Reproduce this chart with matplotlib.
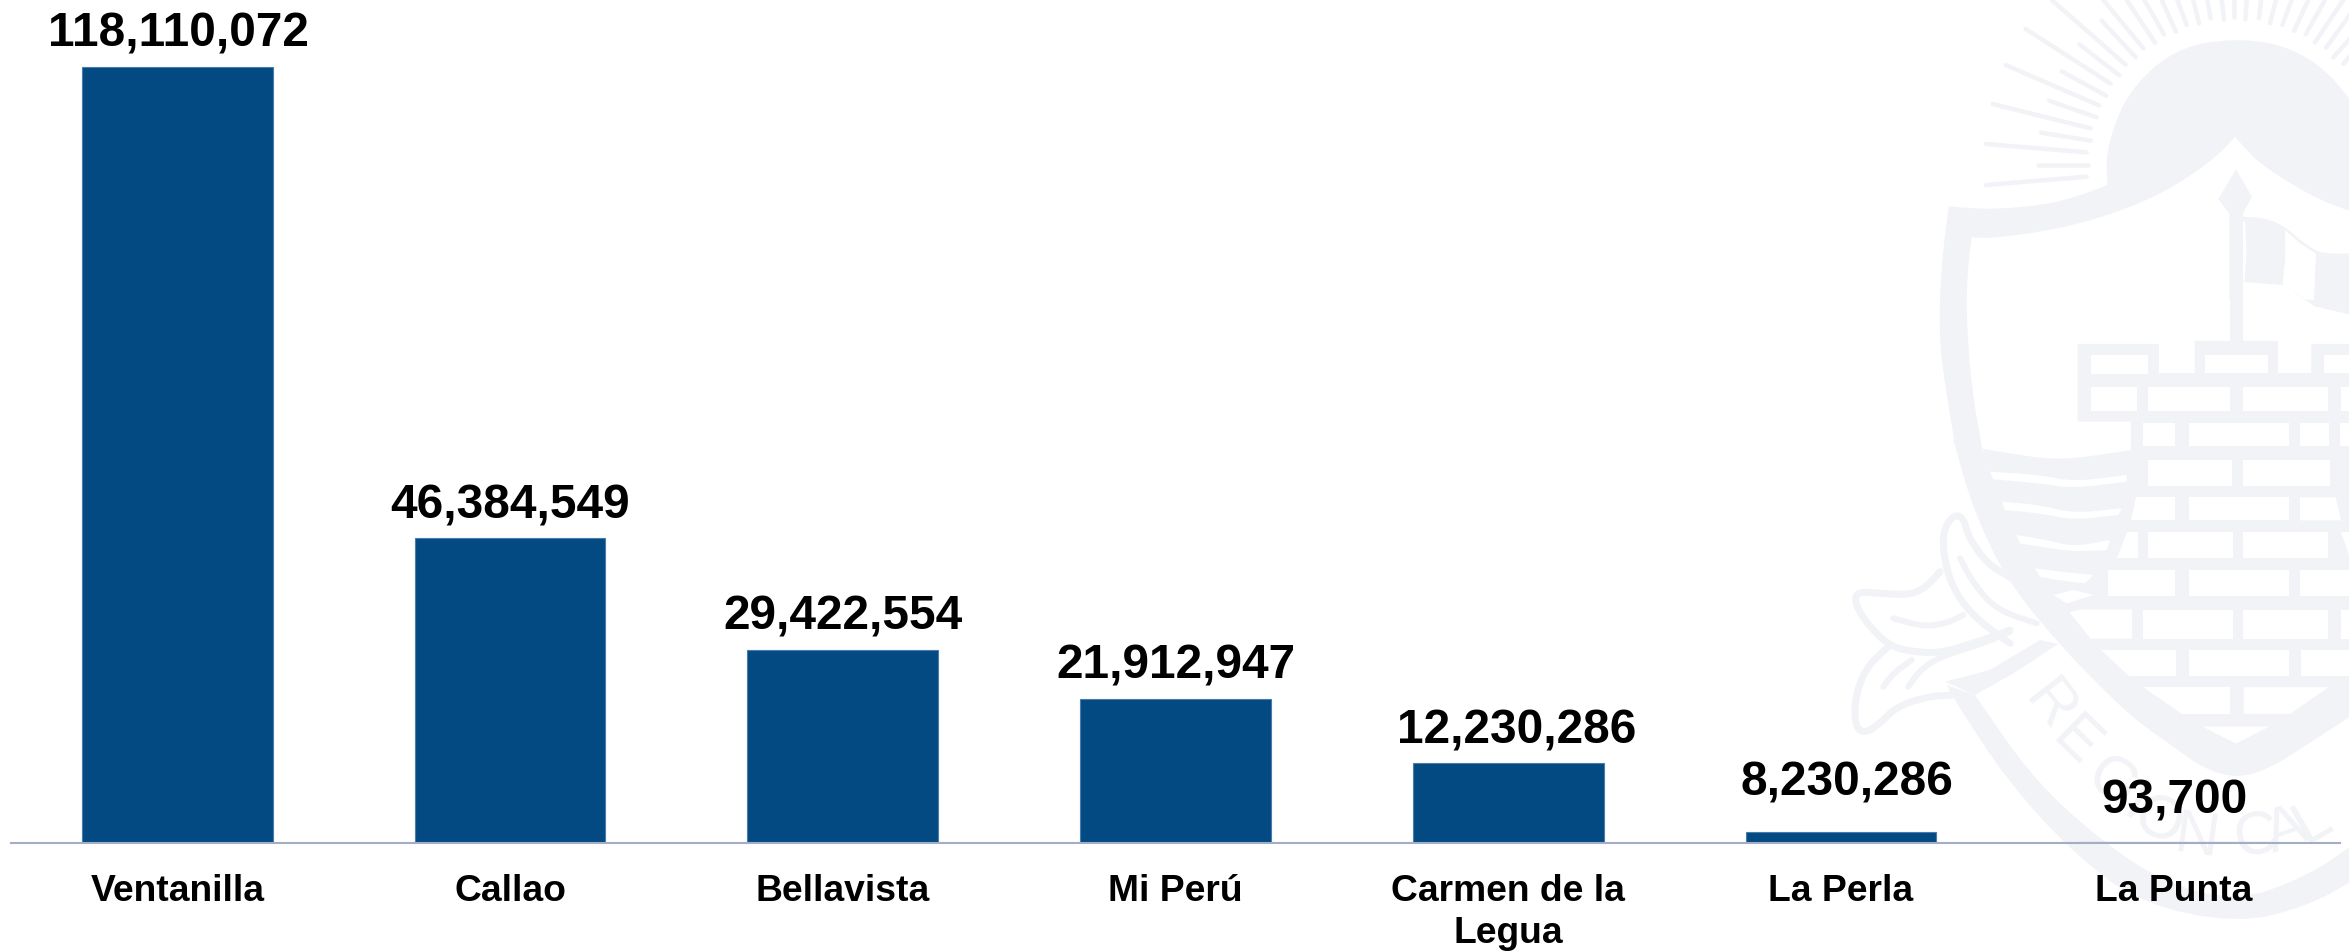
import numpy as np
import matplotlib
matplotlib.use("Agg")
import matplotlib.pyplot as plt
from matplotlib.ticker import NullLocator

plt.rcParams['font.family'] = ['Liberation Sans', 'DejaVu Sans']

# ---- data ----
categories = ['Ventanilla', 'Callao', 'Bellavista', 'Mi Perú', 'Carmen de la\nLegua', 'La Perla', 'La Punta']
bar_values = [118110072, 46384549, 29422554, 21912947, 12230286, 1670000, 93700]
value_labels = ['118,110,072', '46,384,549', '29,422,554', '21,912,947', '12,230,286', '8,230,286', '93,700']
label_gap_px = [20, 20, 20, 21, 19, 37, 29]
label_shift_px = [1, 0, 0, 0, 8, 6, 1]

W, H, DPI = 2349, 951, 100
BAR = '#034A83'
EDGE = '#4A7CAB'
AXIS = '#A3AEC6'
WM = '#F2F3F7'

fig = plt.figure(figsize=(W / DPI, H / DPI), dpi=DPI, facecolor='white')

# ---- watermark crest (background decoration, pixel coordinates) ----
wm = fig.add_axes([0, 0, 1, 1], zorder=0)
wm.set_xlim(0, W)
wm.set_ylim(H, 0)
wm.axis('off')


def z1(p):
    return [(1800 + x * 549 / 1568, y * 951 / 1568) for x, y in p]


def z4(p):
    return [(1840 + x / 3, 440 + y / 3) for x, y in p]


def z5(p):
    return [(1960 + x / 3, y / 3) for x, y in p]


def smooth(p, n=3):
    p = np.array(p, float)
    for _ in range(n):
        q = 0.75 * p[:-1] + 0.25 * p[1:]
        r = 0.25 * p[:-1] + 0.75 * p[1:]
        m = np.empty((len(q) * 2, 2))
        m[0::2] = q
        m[1::2] = r
        p = np.vstack([p[0], m, p[-1]])
    return [tuple(v) for v in p]


def poly(p, color=WM, z=1):
    a = np.array(p)
    wm.fill(a[:, 0], a[:, 1], color=color, lw=0, zorder=z)


def stroke(p, px, color=WM, z=2, sm=True):
    a = np.array(smooth(p) if sm else p)
    wm.plot(a[:, 0], a[:, 1], color=color, lw=px * 72 / DPI, solid_capstyle='round',
            solid_joinstyle='round', zorder=z)


# rays
rays = [((78, 555), (380, 530)), ((235, 495), (385, 495)), ((78, 432), (380, 457)), ((243, 398), (392, 422)),
        ((98, 312), (392, 385)), ((267, 302), (410, 352)), ((137, 195), (417, 316)), ((305, 214), (438, 287)),
        ((197, 87), (452, 251)), ((358, 133), (478, 226)), ((275, 0), (497, 194)), ((425, 62), (527, 172)),
        ((430, 0), (550, 145)), ((500, 0), (585, 128)), ((553, 0), (612, 103)), ((605, 0), (648, 95)),
        ((652, 0), (680, 75)), ((700, 0), (717, 70)), ((742, 0), (752, 55)), ((785, 0), (792, 58)),
        ((823, -5), (823, 50)), ((860, 0), (856, 58)), ((903, 0), (897, 55)), ((948, 0), (930, 70)),
        ((995, 0), (967, 75)), ((1045, 0), (1002, 93)), ((1095, 0), (1037, 103)), ((1150, 0), (1065, 127)),
        ((1180, 30), (1098, 143)), ((1180, 105), (1120, 172)), ((1180, 155), (1150, 192))]
for a, b in rays:
    stroke(z5([a, b]), 4.5, z=1, sm=False)

sun_top = smooth([(443, 555), (438, 480), (455, 400), (490, 310), (545, 235), (620, 170), (700, 135), (780, 122),
                  (860, 120), (950, 132), (1040, 170), (1110, 225), (1180, 310)], 2)
top_left = smooth([(0, 622), (100, 628), (250, 615), (350, 590), (443, 555)], 2)
apex_left = smooth([(36, 712), (90, 715), (250, 695), (400, 660), (540, 610), (640, 560), (730, 500), (790, 450),
                    (825, 410)], 2)
apex_right = smooth([(825, 410), (860, 450), (900, 490), (990, 550), (1080, 600), (1180, 637)], 2)

outer_bottom = smooth(z4([(1560, 810), (1400, 915), (1290, 985), (1190, 1015), (1090, 985), (1000, 920), (900, 850),
                          (800, 760), (655, 610), (500, 420), (400, 210), (340, 0)]), 2)
left_outer = smooth(z1([(440, 725), (405, 600), (397, 530), (405, 430), (425, 340)]), 2)
shield_outer = z5(top_left) + z5(sun_top) + [(2349, 104), (2349, 717)] + outer_bottom + left_outer
poly(shield_outer, z=1)

inner_left = smooth(z1([(522, 745), (490, 640), (475, 520), (478, 450), (490, 392)]), 2)
shield_inner = inner_left + z5(apex_left) + z5(apex_right) + [(2349, 212), (2349, 650), (2150, 600), (2100, 500)]
poly(shield_inner, color='white', z=2)

# outer ring + ribbon band
ring_out = smooth(z4([(320, 735), (350, 790), (500, 1020), (700, 1240), (900, 1390), (1190, 1450), (1400, 1400),
                      (1560, 1310)]), 2)
ring_in = smooth(z4([(1560, 1200), (1400, 1310), (1190, 1385), (950, 1320), (720, 1150), (560, 990), (405, 765)]), 2)
poly(ring_out + ring_in, z=1)
poly(z4([(315, 725), (450, 690), (600, 600), (655, 612), (520, 700), (405, 765)]), z=1)

# castle + water block
castle = z1([(793, 567), (1025, 567), (1025, 615), (1127, 615), (1127, 562), (1365, 562), (1365, 615), (1460, 615),
             (1460, 567), (1580, 567), (1580, 1130), (1245, 1260), (800, 1040), (620, 900), (522, 740)]) \
    + z1(smooth([(522, 740), (700, 757), (800, 755), (945, 742)], 2)) + z1([(945, 695), (793, 695)])
poly(castle, z=3)

bricks = [
    [(830, 585), (995, 585), (995, 617), (830, 617)], [(1157, 585), (1337, 585), (1337, 615), (1157, 615)],
    [(1497, 585), (1580, 585), (1580, 615), (1497, 615)],
    [(830, 638), (963, 638), (963, 678), (830, 678)], [(995, 638), (1227, 638), (1227, 678), (995, 678)],
    [(1265, 638), (1507, 638), (1507, 678), (1265, 678)], [(1545, 638), (1580, 638), (1580, 678), (1545, 678)],
    [(980, 697), (1072, 697), (1072, 735), (980, 735)], [(1110, 697), (1398, 697), (1398, 735), (1110, 735)],
    [(1428, 697), (1510, 697), (1510, 735), (1428, 735)], [(1543, 697), (1580, 697), (1580, 735), (1543, 735)],
    [(995, 758), (1235, 758), (1235, 802), (995, 802)], [(1265, 758), (1515, 758), (1515, 802), (1265, 802)],
    [(960, 820), (1072, 820), (1072, 858), (945, 858)], [(1110, 820), (1398, 820), (1398, 858), (1110, 858)],
    [(1428, 820), (1530, 820), (1545, 858), (1428, 858)],
    [(935, 877), (965, 877), (965, 920), (905, 920)], [(995, 877), (1237, 877), (1237, 920), (995, 920)],
    [(1265, 877), (1507, 877), (1507, 920), (1265, 920)], [(1545, 877), (1580, 877), (1580, 920), (1570, 920)],
    [(880, 940), (1072, 940), (1072, 983), (880, 983)], [(1110, 940), (1398, 940), (1398, 983), (1110, 983)],
    [(1428, 940), (1580, 940), (1580, 983), (1428, 983)],
    [(770, 1010), (800, 1005), (948, 1005), (948, 1053), (830, 1053)],
    [(980, 1005), (1237, 1005), (1237, 1053), (980, 1053)], [(1265, 1005), (1507, 1005), (1507, 1053), (1265, 1053)],
    [(1545, 1005), (1580, 1005), (1580, 1053), (1545, 1053)],
    [(860, 1072), (1075, 1072), (1075, 1115), (940, 1115)], [(1110, 1072), (1398, 1072), (1398, 1115), (1110, 1115)],
    [(1430, 1072), (1580, 1072), (1580, 1115), (1430, 1115)],
    [(980, 1133), (1228, 1133), (1228, 1177), (1090, 1177)], [(1267, 1133), (1510, 1133), (1400, 1177), (1267, 1177)],
    [(1150, 1198), (1340, 1198), (1245, 1226)],
]
for b in bricks:
    poly(z1(b), color='white', z=4)

# white water stripes
stripes = [
    ([(450, 95), (600, 105), (700, 125), (860, 105)], [(860, 125), (700, 145), (600, 130), (460, 118)]),
    ([(485, 185), (600, 195), (700, 220), (845, 205)], [(835, 225), (700, 240), (600, 220), (495, 210)]),
    ([(530, 285), (620, 300), (700, 320), (810, 300)], [(800, 330), (700, 335), (600, 320), (540, 310)]),
    ([(585, 385), (660, 395), (760, 405)], [(735, 430), (650, 420), (600, 410)]),
]
for up, lo in stripes:
    poly(z4(smooth(up, 2) + smooth(lo, 2)), color='white', z=4)
poly(z4([(640, 465), (700, 450), (760, 465), (680, 490)]), color='white', z=4)

# flagpole and flag
poly(z5([(808, 640), (775, 597), (828, 508), (876, 590), (849, 640), (849, 900), (808, 900)]), z=3)
poly(z1([(1227, 350), (1265, 350), (1265, 570), (1227, 570)]), z=3)
flag_top = smooth([(849, 650), (920, 655), (975, 680), (1020, 720), (1070, 755), (1120, 762), (1180, 760)], 2)
poly(z5(flag_top) + z1([(1580, 520), (1470, 505), (1380, 470), (1265, 465)]), z=3)
poly(z5([(975, 690), (1020, 730), (1068, 762), (1062, 900), (1035, 898), (968, 855), (976, 770)]), color='white', z=4)
poly(z5([(855, 665), (860, 760), (853, 845), (849, 845), (849, 665)]), color='white', z=4)

# ribbon knots
ribbon = [
    ([(515, 415), (440, 370), (385, 290), (370, 232), (340, 225), (310, 270), (310, 340), (335, 440), (400, 530), (510, 610)], 7),
    ([(360, 355), (400, 430), (470, 510), (590, 550)], 6),
    ([(300, 395), (260, 440), (210, 465), (120, 460), (50, 455), (45, 490), (80, 550), (150, 620), (220, 635), (300, 640), (430, 600), (510, 570)], 7),
    ([(160, 535), (250, 560), (320, 550), (370, 525)], 6),
    ([(145, 620), (80, 680), (45, 770), (45, 860), (75, 880), (120, 850), (170, 800), (260, 770), (340, 765)], 7),
    ([(130, 740), (160, 700), (215, 660)], 6),
    ([(205, 740), (240, 690), (300, 650), (430, 610), (510, 575)], 6),
]
for pts, px in ribbon:
    stroke(z4(pts), px, z=2)

# ring lettering
letters = [('R', 625, 800, -52), ('E', 705, 910, -44), ('G', 815, 1035, -33), ('I', 885, 1095, -28),
           ('O', 955, 1150, -20), ('N', 1070, 1195, -8), ('C', 1250, 1195, 10), ('A', 1340, 1175, 20),
           ('L', 1420, 1145, 30)]
for ch, x, y, rot in letters:
    (px, py), = z4([(x, y)])
    wm.text(px, py, ch, color=WM, fontsize=44, ha='center', va='center', rotation=rot,
            rotation_mode='anchor', zorder=5)

# ---- chart ----
ax_left, ax_right, ax_base = 11, 2340, 843
px_per_value = (843 - 67) / bar_values[0]
ax = fig.add_axes([ax_left / W, 1 - ax_base / H, (ax_right - ax_left) / W, ax_base / H], zorder=1)
ax.patch.set_alpha(0)
x = np.arange(len(categories))
ax.bar(x, bar_values, width=0.573, color=BAR, edgecolor=EDGE, linewidth=0.8)
ax.set_xlim(-0.5, len(categories) - 0.5)
ax.set_ylim(0, ax_base / px_per_value)
for s in ('top', 'left', 'right'):
    ax.spines[s].set_visible(False)
ax.spines['bottom'].set_color(AXIS)
ax.spines['bottom'].set_linewidth(1.5)
ax.yaxis.set_major_locator(NullLocator())
ax.set_xticks(x)
ax.set_xticklabels(categories, fontsize=26.8, fontweight='bold', color='black', linespacing=1.27)
ax.tick_params(axis='x', length=0, pad=22)

for xi, v, lab, gap, sh in zip(x, bar_values, value_labels, label_gap_px, label_shift_px):
    ax.annotate(lab, (xi, v), xytext=(sh * 72 / DPI, gap * 72 / DPI), textcoords='offset points', ha='center',
                va='baseline', fontsize=34.4, fontweight='bold', color='black', annotation_clip=False)

fig.savefig('out.png', dpi=DPI, facecolor='white')
